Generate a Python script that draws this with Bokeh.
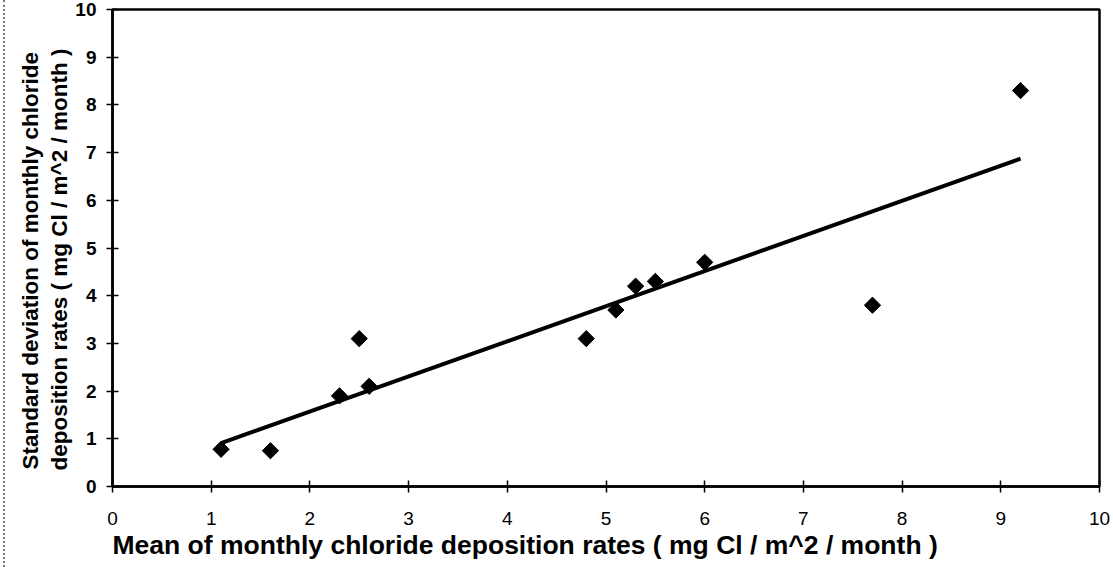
import numpy as np
from bokeh.plotting import figure
from bokeh.models import Range1d, FixedTicker, Title
from bokeh.embed import file_html
from bokeh.resources import INLINE

# Data
mean_rate = [1.1, 1.6, 2.3, 2.5, 2.6, 4.8, 5.1, 5.3, 5.5, 6.0, 7.7, 9.2]
std_rate = [0.78, 0.75, 1.9, 3.1, 2.1, 3.1, 3.7, 4.2, 4.3, 4.7, 3.8, 8.3]
x_ticks = [0, 1, 2, 3, 4, 5, 6, 7, 8, 9, 10]
y_ticks = [0, 1, 2, 3, 4, 5, 6, 7, 8, 9, 10]
x_title = "Mean of monthly chloride deposition rates ( mg Cl / m^2 / month )"
y_title_1 = "Standard deviation of monthly chloride"
y_title_2 = "deposition rates ( mg Cl / m^2 / month )"

FONT = "Liberation Sans"

p = figure(width=1108, height=567, output_backend="svg", toolbar_location=None,
           x_range=Range1d(0, 10), y_range=Range1d(0, 10),
           min_border_left=107, min_border_right=14, min_border_top=9, min_border_bottom=81)
p.styles = {"margin-left": "3px", "border-left": "2px dotted #777777"}
p.background_fill_color = "white"
p.border_fill_color = "white"
p.outline_line_color = "black"
p.outline_line_width = 2.5
p.xgrid.visible = False
p.ygrid.visible = False

for ax, ticks in ((p.xaxis[0], x_ticks), (p.yaxis[0], y_ticks)):
    ax.ticker = FixedTicker(ticks=ticks)
    ax.minor_tick_line_color = None
    ax.axis_line_color = "black"
    ax.axis_line_width = 2.5
    ax.major_tick_line_color = "black"
    ax.major_tick_line_width = 1.5
    ax.major_tick_in = 6
    ax.major_tick_out = 6
    ax.major_label_text_font = FONT
    ax.major_label_text_font_size = "19px"
    ax.major_label_text_color = "black"

p.xaxis[0].major_label_standoff = 19
p.yaxis[0].major_label_standoff = 10
p.yaxis[0].major_label_text_font_style = "bold"

# regression line from data
slope, intercept = np.polyfit(mean_rate, std_rate, 1)
lx = [min(mean_rate), max(mean_rate)]
ly = [slope * v + intercept for v in lx]
p.line(lx, ly, line_color="black", line_width=4)

p.scatter(mean_rate, std_rate, marker="square", size=11.5, angle=np.pi / 4,
          fill_color="black", line_color="black")

p.add_layout(Title(text=x_title, align="left", offset=0, standoff=0,
                   text_font=FONT, text_font_size="26.5px", text_font_style="bold",
                   text_color="black"), "below")
p.add_layout(Title(text=y_title_2, align="left", offset=16, standoff=2,
                   text_font=FONT, text_font_size="22.5px", text_font_style="bold",
                   text_color="black"), "left")
p.add_layout(Title(text=y_title_1, align="left", offset=17, standoff=2,
                   text_font=FONT, text_font_size="22.5px", text_font_style="bold",
                   text_color="black"), "left")

open("out.html", "w").write(file_html(p, INLINE))
